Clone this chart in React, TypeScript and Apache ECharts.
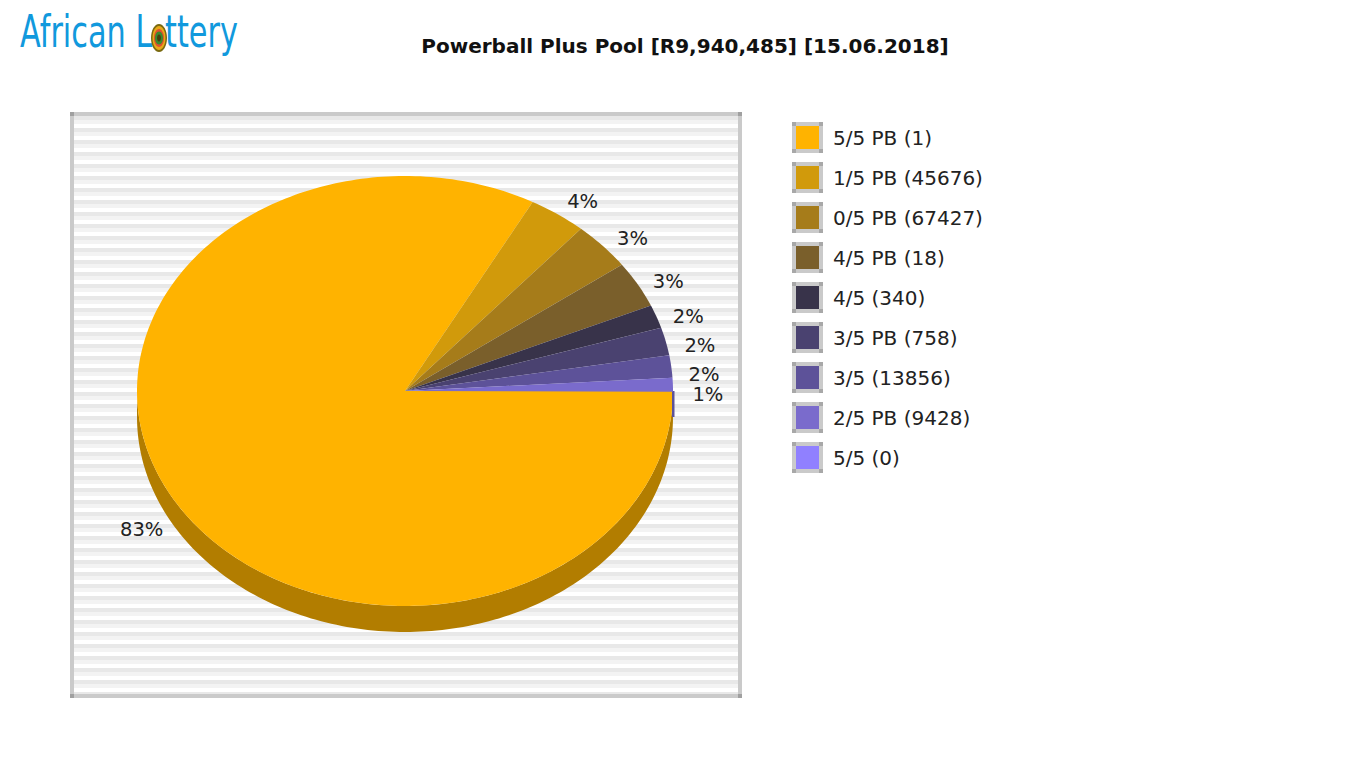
import React, { useEffect, useRef } from "react";
import * as echarts from "echarts";

const categories = ["5/5 PB (1)", "1/5 PB (45676)", "0/5 PB (67427)", "4/5 PB (18)", "4/5 (340)", "3/5 PB (758)", "3/5 (13856)", "2/5 PB (9428)", "5/5 (0)"];
const shares = [82.9, 3.5, 3.6, 3.5, 1.75, 2.1, 1.67, 1.03, 0];
const percentLabels = ["83%", "4%", "3%", "3%", "2%", "2%", "2%", "1%", ""];
const colors = ["#FFB300", "#D19A0B", "#A67C1A", "#7A5F2B", "#38334A", "#4A4270", "#5D5299", "#7A6BCC", "#9080FF"];
const sideColors = ["#B27D00", "#926C08", "#745712", "#55431E", "#272434", "#342E4E", "#5D5299", "#554B8F", "#6559B2"];
const labelNudges = [[-3, 3], [5, 0], [4, 1], [0, 0], [-1, -1], [0, 0], [-2, 0], [0, 0], [0, 0]];
const titleText = "Powerball Plus Pool [R9,940,485] [15.06.2018]";

const W = 1358;
const H = 760;
const CX = 405;
const CY = 391;
const RX = 268;
const RY = 215;
const DEPTH = 26;

function ellipsePoints(a0: number, a1: number, dy: number) {
  const n = Math.max(2, Math.ceil(Math.abs(a1 - a0) / 0.02));
  const pts: number[][] = [];
  for (let i = 0; i <= n; i++) {
    const a = a0 + ((a1 - a0) * i) / n;
    pts.push([CX + RX * Math.cos(a), CY - RY * Math.sin(a) + dy]);
  }
  return pts;
}

function renderSlice(params: any, api: any) {
  const start = api.value(0) as number;
  const end = api.value(1) as number;
  const idx = params.seriesIndex as number;
  if (end - start <= 0) return { type: "group", children: [] };
  const a0 = (start / 100) * Math.PI * 2;
  const a1 = (end / 100) * Math.PI * 2;
  const top: number[][] = [[CX, CY], ...ellipsePoints(-a0, -a1, 0)];
  const children: any[] = [];
  const lowStart = Math.max(-a1, -Math.PI);
  const lowEnd = -a0;
  if (lowEnd > lowStart) {
    const upper = ellipsePoints(lowStart, lowEnd, 0);
    const lower = ellipsePoints(lowEnd, lowStart, DEPTH);
    children.push({ type: "polygon", shape: { points: [...upper, ...lower] }, style: { fill: sideColors[idx] } });
  }
  if (idx === 7) {
    children.push({ type: "polygon", shape: { points: [[CX + RX - 1, CY], [CX + RX + 1.5, CY], [CX + RX + 1.5, CY + DEPTH], [CX + RX - 1, CY + DEPTH]] }, style: { fill: sideColors[6] } });
  }
  children.push({ type: "polygon", shape: { points: top }, style: { fill: colors[idx] } });
  return { type: "group", children };
}

function renderLabel(params: any, api: any) {
  const start = api.value(0) as number;
  const end = api.value(1) as number;
  const mid = (((start + end) / 2) / 100) * Math.PI * 2;
  const n = labelNudges[params.dataIndex];
  const x = CX + 303 * Math.cos(mid) + n[0];
  const y = CY + 244 * Math.sin(mid) + 11 + n[1];
  return {
    type: "text",
    x,
    y,
    style: { text: percentLabels[params.dataIndex], x: 0, y: 0, align: "center", verticalAlign: "middle", fontFamily: "DejaVu Sans", fontSize: 19.5, fill: "#222222" },
  };
}

export default function App() {
  const ref = useRef<HTMLDivElement>(null);
  useEffect(() => {
    if (!ref.current) return;
    const chart = echarts.init(ref.current, undefined, { renderer: "svg", width: W, height: H });
    // Slices run clockwise from 3 o'clock: first slice wraps below the pie.
    let cum = 0;
    const ranges = shares.map((v) => {
      const r = [cum, cum + v];
      cum += v;
      return r;
    });
    const stripes: any[] = [];
    const yEnd = 694;
    for (let y = 116; y < yEnd; y += 12) {
      stripes.push({ type: "rect", silent: true, z: 1, shape: { x: 74, y, width: 664, height: Math.min(4, yEnd - y) }, style: { fill: "#e8e8e8" } });
      stripes.push({ type: "rect", silent: true, z: 1, shape: { x: 74, y: y + 4, width: 664, height: Math.min(4, Math.max(0, yEnd - y - 4)) }, style: { fill: "#f3f3f3" } });
    }
    const frame = { type: "rect", silent: true, z: 2, shape: { x: 72, y: 114, width: 668, height: 582 }, style: { fill: "transparent", stroke: "#cacaca", lineWidth: 4 } };
    const corners: any[] = [];
    [[70, 112], [738, 112], [70, 694], [738, 694]].forEach(([x, y]) => {
      corners.push({ type: "rect", silent: true, z: 3, shape: { x, y, width: 4, height: 4 }, style: { fill: "#a0a0a0" } });
    });
    categories.forEach((_, i) => {
      const y0 = 122 + i * 40;
      [[0, 0], [27, 0], [0, 27], [27, 27]].forEach(([dx, dy]) => {
        corners.push({ type: "rect", silent: true, z: 10, shape: { x: 792 + dx, y: y0 + dy, width: 4, height: 4 }, style: { fill: "#a8a8a8" } });
      });
    });
    const logoText = { y: 0, x: 0, verticalAlign: "bottom", fontFamily: "DejaVu Sans", fontSize: 45, fill: "#1199dd" };
    const logo = [
      { type: "text", x: 20, y: 54, scaleX: 0.675, style: { ...logoText, text: "African L" } },
      { type: "text", x: 165, y: 54, scaleX: 0.675, style: { ...logoText, text: "ttery" } },
      { type: "ellipse", shape: { cx: 159, cy: 38, rx: 8, ry: 14 }, style: { fill: "#7a6a10" } },
      { type: "ellipse", shape: { cx: 159, cy: 38, rx: 6.5, ry: 12 }, style: { fill: "#e8a818" } },
      { type: "ellipse", shape: { cx: 159, cy: 38, rx: 5, ry: 9 }, style: { fill: "#e05030" } },
      { type: "ellipse", shape: { cx: 159, cy: 38, rx: 4, ry: 6.5 }, style: { fill: "#3a8a30" } },
      { type: "ellipse", shape: { cx: 159, cy: 38, rx: 2, ry: 3.5 }, style: { fill: "#4a4010" } },
    ];
    chart.setOption({
      animation: false,
      title: {
        text: titleText,
        left: 685,
        top: 46,
        padding: 0,
        textAlign: "center",
        textVerticalAlign: "middle",
        textStyle: { fontFamily: "DejaVu Sans", fontSize: 20, fontWeight: "bold", color: "#111111" },
      },
      legend: {
        orient: "vertical",
        left: 792,
        top: 122,
        padding: 0,
        itemWidth: 27,
        itemHeight: 27,
        itemGap: 9,
        icon: "rect",
        selectedMode: false,
        itemStyle: { borderColor: "#cacaca", borderWidth: 4 },
        textStyle: { fontFamily: "DejaVu Sans", fontSize: 20, color: "#222222", padding: [0, 0, 0, 7] },
        data: categories,
      },
      graphic: [...stripes, frame, ...corners, ...logo],
      series: [
        ...categories.map((name, i) => ({
          type: "custom",
          name,
          coordinateSystem: "none",
          silent: true,
          z: 5,
          itemStyle: { color: colors[i] },
          renderItem: renderSlice,
          data: [ranges[i]],
        })),
        {
          type: "custom",
          name: "labels",
          coordinateSystem: "none",
          silent: true,
          z: 6,
          renderItem: renderLabel,
          data: ranges,
        },
      ],
    });
    return () => chart.dispose();
  }, []);
  return <div ref={ref} style={{ width: W, height: H, margin: "-8px 0 0 -8px" }} />;
}
